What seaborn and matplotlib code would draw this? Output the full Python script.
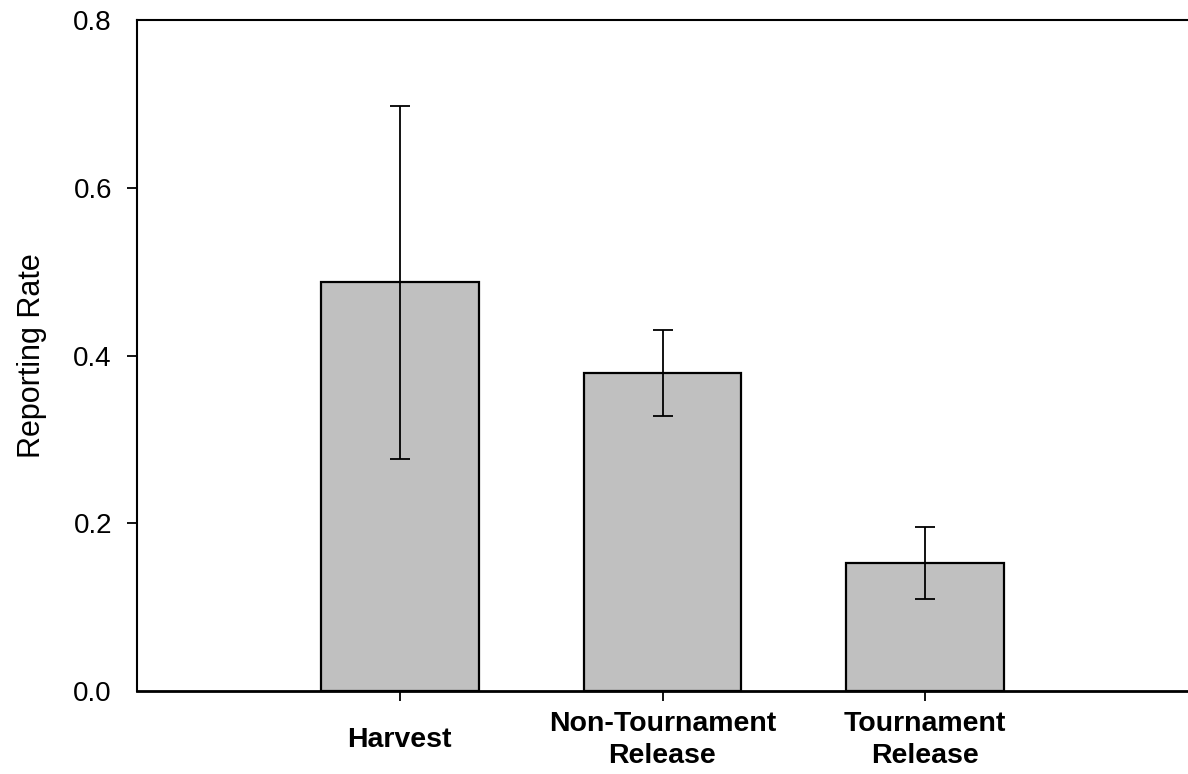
import numpy as np
import pandas as pd
import matplotlib
matplotlib.use("Agg")
import matplotlib.pyplot as plt
import seaborn as sns

# values
categories = ["Harvest", "Non-Tournament\nRelease", "Tournament\nRelease"]
rates = [0.488, 0.379, 0.153]
err_low = [0.277, 0.328, 0.110]
err_high = [0.698, 0.430, 0.195]
y_ticks = [0.0, 0.2, 0.4, 0.6, 0.8]

sns.set_theme(style="white")
plt.rcParams['font.family'] = ['Liberation Sans', 'DejaVu Sans']
plt.rcParams['text.color'] = 'black'
plt.rcParams['axes.labelcolor'] = 'black'
plt.rcParams['xtick.color'] = 'black'
plt.rcParams['ytick.color'] = 'black'

df = pd.DataFrame({"group": categories, "rate": rates})

fig = plt.figure(figsize=(11.88, 7.74), dpi=100)
ax = fig.add_axes([137 / 1188, 1 - 691 / 774, 1 - 137 / 1188, (691 - 20) / 774])

sns.barplot(data=df, x="group", y="rate", order=categories, color="#c0c0c0",
            saturation=1, width=0.6, edgecolor="black", linewidth=1.6,
            errorbar=None, ax=ax)

# asymmetric error bars
yerr = np.array([np.array(rates) - np.array(err_low),
                 np.array(err_high) - np.array(rates)])
ax.errorbar(np.arange(len(categories)), rates, yerr=yerr, fmt="none",
            ecolor="black", elinewidth=1.3, capsize=7.5, capthick=1.3, zorder=5)

ax.set_xlim(-1.0, 3.0)
ax.set_ylim(0, 0.8)
ax.set_yticks(y_ticks)
ax.set_yticklabels([f"{t:.1f}" for t in y_ticks])
ax.set_xlabel("")
ax.set_ylabel("Reporting Rate", fontsize=22, color="black")
ax.yaxis.set_label_coords(-0.086, 0.5)

for side in ["left", "top", "bottom"]:
    ax.spines[side].set_visible(True)
    ax.spines[side].set_color("black")
    ax.spines[side].set_linewidth(1.5)
ax.spines["bottom"].set_linewidth(2.0)
ax.spines["right"].set_visible(False)

ax.tick_params(axis="y", direction="out", length=7, width=1.3, colors="black",
               labelsize=20, pad=11, left=True)
ax.tick_params(axis="x", direction="out", length=7, width=1.3, colors="black",
               labelsize=20.5, pad=28, bottom=True)
for lbl in ax.get_xticklabels():
    lbl.set_fontweight("bold")
    lbl.set_va("center")
    lbl.set_linespacing(1.3)

# no tick marks at the ends of the y axis
yt = ax.yaxis.get_major_ticks()
yt[0].tick1line.set_visible(False)
yt[-1].tick1line.set_visible(False)

fig.savefig("out.png", dpi=100)
